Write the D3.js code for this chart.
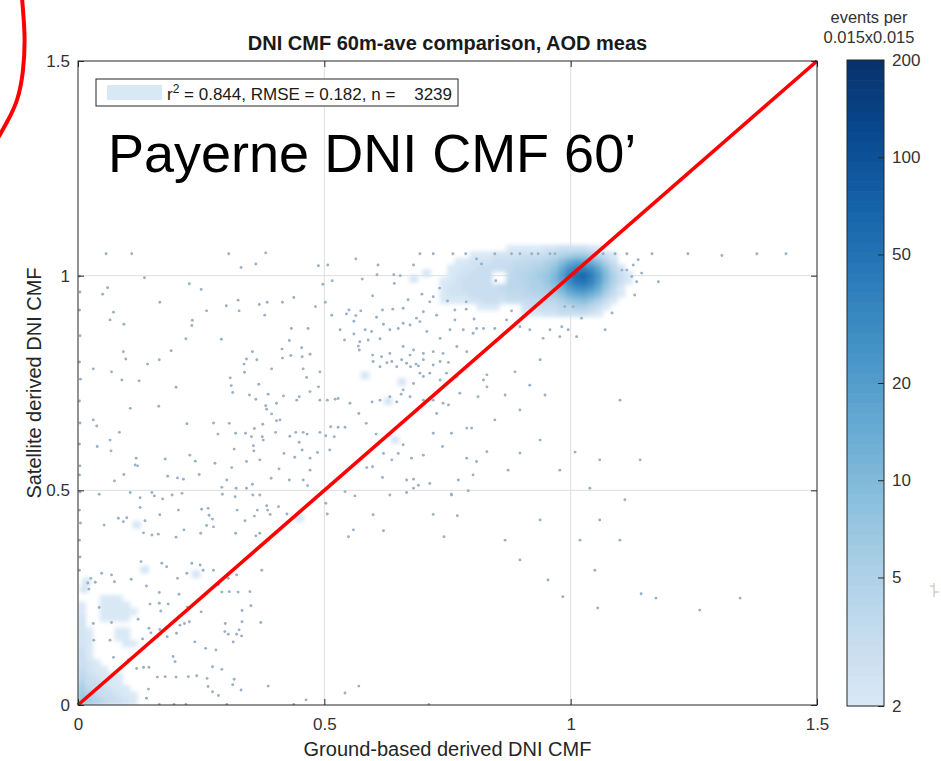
<!DOCTYPE html>
<html>
<head>
<meta charset="utf-8">
<script src="https://cdn.jsdelivr.net/npm/d3@7"></script>
<style>
  html, body { margin: 0; padding: 0; background: #ffffff; }
  svg { display: block; font-family: "Liberation Sans", Arial, Helvetica, sans-serif; }
</style>
</head>
<body>
<svg id="chart" width="941" height="761"></svg>
<script>
// ---------- data ----------
const chartTitle = "DNI CMF 60m-ave comparison, AOD meas";
const xLabel = "Ground-based derived DNI CMF";
const yLabel = "Satellite derived DNI CMF";
const siteLabel = "Payerne DNI CMF 60\u2019";
const colorbarTitle = ["events per", "0.015x0.015"];

const axisTicks = [0, 0.5, 1, 1.5];
const axisTickLabels = ["0", "0.5", "1", "1.5"];
const colorTicks = [2, 5, 10, 20, 50, 100, 200];
const colorDomain = [2, 200];

const statR2 = 0.844;
const statRMSE = 0.182;
const statN = 3239;

// 1:1 reference line
const oneToOne = [[0, 0], [1.5, 1.5]];

// density bins (events per 0.015x0.015), rows listed bottom -> top
const densityBin = 0.015;
const clearSkyX0 = 0.735, clearSkyY0 = 0.905;
const clearSkyCounts = [
  [0,0,0,0,0,0,0,0,0,0,0,2,2,2,2.5,2.5,3,3,3,3,2.5,2,0,0,0,0],
  [0,0,0,0,0,2,2,2,0,0,0,2.5,3,3,3,3,4,4,5,5,4,3,2,0,0,0],
  [2,2,2,2,2.5,2.5,3,3,2.5,3,3,3,3.5,3.5,4,4,5,7,8,9,7,5,3,2,0,0],
  [2,2.5,2.5,2.5,3,3,3,3,3,3.5,3.5,4,4,4.5,5,6,8,12,15,16,13,9,5,3,2,0],
  [2,2.5,2.5,3,3,3,3,3,3.5,4,4,4,5,5,6,8,12,20,28,30,24,14,7,4,2,0],
  [2,2,2.5,3,3,3,3,0,0,4,4,4.5,5,5.5,7,10,16,30,45,50,36,20,9,5,3,2],
  [0,2,2.5,2.5,3,3,3,0,0,3.5,4,4.5,5,6,7,10,18,35,55,60,40,22,10,5,3,2],
  [0,2,2,2.5,2.5,3,3,3,3,3.5,4,4,4.5,5,6,8,14,25,35,36,28,16,8,4,2.5,0],
  [0,0,2,2,2.5,2.5,2.5,3,3,3,3.5,3.5,4,4,5,6,9,14,18,18,14,9,5,3,0,0],
  [0,0,0,0,2,2,2,2.5,2.5,2.5,2.5,3,3,3,3.5,4,5,6,7,7,6,4,3,2,0,0],
  [0,0,0,0,0,0,0,0,0,2,2,2,2,2,2.5,2.5,3,3,3,3,2.5,2,0,0,0,0]
];
const overcastX0 = 0, overcastY0 = 0;
const overcastCounts = [
  [8,6,5,4,3,3,2.5,2],
  [7,5,4,3,3,2.5,2,2],
  [6,4,3,3,2.5,2,2,0],
  [5,3,3,2.5,2,2,0,0],
  [4,3,2.5,2,2,2,0,0],
  [3.5,2.5,2,2,0,0,0,0],
  [3,2.5,2,0,0,0,0,0],
  [3,2,0,0,0,0,0,0],
  [3,2,0,0,0,0,0,0],
  [2.5,2,0,0,0,0,2,2],
  [2.5,2,0,0,0,2,2,0],
  [2.5,2,0,0,0,2,2,0],
  [2.5,0,0,0,0,0,0,0],
  [2.5,0,0,2,2,2,2,0],
  [2,0,0,2,2,2,2,2],
  [2,0,0,2,2,2,2,0],
  [0,0,0,2,2,2,0,0]
];
// isolated two-event bins
const pairBins = [
  [0.674, 0.985], [0.700, 0.998], [0.575, 0.760], [0.650, 0.745], [0.622, 0.700],
  [0.636, 0.610], [0.442, 0.428], [0.112, 0.412], [0.128, 0.308], [0.232, 0.297],
  [0.005, 0.262], [0.010, 0.280]
];

// single events
const scatterPoints = [
  [0.057,1.051],[0.109,1.051],[0.306,1.051],[0.381,1.053],[0.361,1.027],[0.331,1.019],[0.488,1.023],
  [0.507,1.025],[0.564,1.039],[0.609,1.025],[0.607,1.002],[0.641,1.002],[0.654,1.000],[0.681,1.025],
  [0.694,1.051],[0.721,1.051],[0.761,1.051],[0.787,1.051],[0.809,1.039],[0.819,1.027],[0.846,1.051],
  [0.880,1.051],[0.897,1.051],[0.921,1.051],[0.934,1.051],[0.958,1.051],[0.968,1.051],[1.066,1.051],
  [1.090,1.051],[1.114,1.051],[1.127,1.025],[1.137,1.037],[1.104,1.013],[1.114,1.013],[1.144,1.006],
  [1.124,0.998],[1.134,0.986],[1.130,0.955],[1.178,0.986],[1.165,1.051],[1.238,1.051],[1.307,1.047],
  [1.378,1.051],[1.437,1.051],[0.848,0.988],[0.880,0.918],
  [0.135,0.995],[0.226,0.981],[0.250,0.968],[0.060,0.972],[0.050,0.957],[0.166,0.938],[0.261,0.918],
  [0.072,0.915],[0.065,0.897],[0.093,0.887],[0.232,0.896],[0.231,0.884],[0.325,0.943],[0.327,0.918],
  [0.301,0.930],[0.368,0.933],[0.384,0.938],[0.379,0.908],[0.415,0.938],[0.438,0.949],[0.497,0.980],
  [0.502,0.938],[0.482,0.928],[0.516,0.988],[0.577,0.992],[0.642,0.982],[0.670,0.944],[0.698,0.957],
  [0.714,0.939],[0.734,0.971],[0.750,0.941],[0.788,0.939],[0.788,0.922],[0.804,0.899],[0.765,0.920],
  [0.728,0.908],[0.701,0.916],[0.687,0.901],[0.660,0.924],[0.639,0.922],[0.618,0.920],[0.620,0.887],
  [0.606,0.903],[0.598,0.953],[0.574,0.918],[0.550,0.920],[0.545,0.911],[0.564,0.907],[0.560,0.894],
  [0.583,0.874],[0.532,0.874],[0.515,0.908],[0.560,0.864],[0.541,0.850],[0.467,0.877],[0.433,0.877],
  [0.429,0.849],[0.414,0.829],[0.454,0.832],[0.455,0.811],[0.471,0.817],[0.432,0.814],[0.415,0.808],
  [0.354,0.823],[0.342,0.806],[0.363,0.804],[0.337,0.794],[0.338,0.775],[0.309,0.762],[0.311,0.744],
  [0.314,0.728],[0.367,0.747],[0.393,0.783],[0.457,0.783],[0.464,0.763],[0.491,0.776],[0.488,0.741],
  [0.471,0.730],[0.449,0.718],[0.444,0.710],[0.417,0.720],[0.403,0.703],[0.386,0.724],[0.348,0.722],
  [0.361,0.712],[0.381,0.697],[0.383,0.689],[0.393,0.678],[0.403,0.662],[0.410,0.664],[0.375,0.654],
  [0.358,0.644],[0.340,0.633],[0.320,0.633],[0.352,0.625],[0.374,0.625],[0.376,0.617],[0.401,0.635],
  [0.430,0.626],[0.442,0.635],[0.457,0.635],[0.465,0.631],[0.449,0.612],[0.356,0.604],[0.357,0.592],
  [0.317,0.596],[0.284,0.631],[0.275,0.657],[0.307,0.656],[0.342,0.567],[0.369,0.571],[0.418,0.586],
  [0.440,0.577],[0.455,0.594],[0.471,0.575],[0.486,0.588],[0.511,0.594],[0.520,0.625],[0.513,0.648],
  [0.528,0.647],[0.542,0.647],[0.503,0.627],[0.491,0.635],[0.522,0.712],[0.528,0.714],[0.506,0.710],
  [0.491,0.710],[0.552,0.703],[0.570,0.679],[0.585,0.656],[0.605,0.631],[0.597,0.706],[0.613,0.710],
  [0.633,0.718],[0.647,0.706],[0.656,0.724],[0.660,0.734],[0.674,0.718],[0.681,0.749],[0.694,0.773],
  [0.701,0.765],[0.714,0.773],[0.735,0.757],[0.748,0.773],[0.769,0.765],[0.775,0.726],[0.741,0.703],
  [0.752,0.699],[0.721,0.710],[0.701,0.710],[0.694,0.695],[0.728,0.679],[0.789,0.645],[0.799,0.645],
  [0.758,0.633],[0.740,0.602],[0.721,0.633],[0.701,0.582],[0.677,0.575],[0.650,0.586],[0.660,0.606],
  [0.637,0.571],[0.618,0.530],[0.598,0.555],[0.586,0.553],[0.620,0.586],[0.667,0.524],[0.681,0.526],
  [0.691,0.512],[0.714,0.516],[0.758,0.489],[0.772,0.524],[0.789,0.575],[0.802,0.536],[0.809,0.567],
  [0.830,0.590],[0.830,0.741],[0.812,0.718],[0.823,0.757],[0.830,0.769],
  [0.599,0.800],[0.613,0.788],[0.627,0.797],[0.637,0.800],[0.647,0.788],[0.657,0.804],[0.667,0.796],
  [0.675,0.788],[0.686,0.794],[0.691,0.790],[0.701,0.804],[0.721,0.792],[0.735,0.800],[0.752,0.798],
  [0.701,0.819],[0.674,0.815],[0.660,0.835],[0.681,0.827],[0.633,0.819],[0.616,0.811],[0.598,0.815],
  [0.571,0.827],[0.569,0.836],[0.572,0.846],[0.589,0.850],[0.613,0.853],[0.596,0.870],[0.633,0.874],
  [0.650,0.877],[0.660,0.889],[0.674,0.885],[0.694,0.893],[0.708,0.870],[0.735,0.854],[0.721,0.823],
  [0.741,0.819],[0.769,0.835],[0.789,0.823],[0.823,0.877],[0.802,0.866],[0.721,0.951],
  [0.765,0.897],[0.755,0.874],[0.782,0.874],[0.809,0.877],[0.846,0.877],[0.870,0.897],[0.897,0.881],
  [0.917,0.874],[0.944,0.854],[0.958,0.874],[0.978,0.858],[0.988,0.928],[1.005,0.928],[1.022,0.901],
  [0.982,0.881],[0.995,0.874],[1.012,0.858],[1.084,0.913],[1.070,0.874],
  [0.938,0.804],[0.887,0.776],[0.917,0.745],[0.948,0.722],[0.867,0.722],[0.897,0.687],[0.846,0.664],
  [0.938,0.617],[0.897,0.587],[0.873,0.547],[0.978,0.547],[1.009,0.589],[1.039,0.505],[1.059,0.571],
  [1.100,0.710],[1.141,0.571],[1.110,0.478],[1.059,0.431],[1.019,0.384],[1.100,0.384],[0.938,0.431],
  [0.867,0.384],[0.897,0.338],[0.954,0.291],[0.984,0.252],[1.049,0.314],[1.055,0.226],[1.143,0.259],
  [1.173,0.249],[1.344,0.249],[1.262,0.221],
  [0.031,0.783],[0.068,0.776],[0.089,0.757],[0.124,0.755],[0.092,0.823],[0.097,0.806],[0.141,0.794],
  [0.165,0.804],[0.189,0.825],[0.199,0.740],[0.219,0.853],[0.291,0.852],[0.106,0.691],[0.164,0.696],
  [0.031,0.664],[0.038,0.650],[0.084,0.635],[0.065,0.617],[0.067,0.592],[0.039,0.602],[0.221,0.655],
  [0.177,0.573],[0.118,0.575],[0.116,0.559],[0.121,0.557],[0.074,0.522],[0.093,0.537],[0.182,0.533],
  [0.202,0.529],[0.214,0.526],[0.227,0.582],[0.238,0.568],[0.246,0.537],[0.278,0.563],[0.302,0.524],
  [0.312,0.553],[0.342,0.505],[0.354,0.514],[0.321,0.505],[0.292,0.507],[0.392,0.528],[0.408,0.550],
  [0.429,0.524],[0.457,0.524],[0.466,0.511],[0.471,0.547],
  [0.043,0.491],[0.106,0.495],[0.126,0.483],[0.150,0.495],[0.155,0.487],[0.191,0.489],[0.211,0.493],
  [0.172,0.480],[0.126,0.460],[0.166,0.443],[0.204,0.454],[0.251,0.456],[0.264,0.458],[0.266,0.442],
  [0.273,0.433],[0.261,0.418],[0.275,0.415],[0.249,0.400],[0.053,0.419],[0.082,0.435],[0.092,0.427],
  [0.099,0.436],[0.136,0.429],[0.133,0.401],[0.150,0.396],[0.163,0.398],[0.199,0.391],[0.215,0.408],
  [0.293,0.491],[0.319,0.485],[0.323,0.454],[0.355,0.489],[0.369,0.489],[0.364,0.454],[0.358,0.440],
  [0.383,0.464],[0.385,0.454],[0.390,0.444],[0.339,0.429],[0.407,0.462],[0.424,0.445],[0.417,0.418],
  [0.369,0.400],[0.361,0.394],[0.320,0.400],[0.503,0.470],[0.506,0.445],[0.562,0.487],[0.542,0.497],
  [0.599,0.443],[0.633,0.489],[0.667,0.495],[0.681,0.505],[0.721,0.444],[0.758,0.491],[0.770,0.441],
  [0.792,0.499],[0.620,0.406],[0.559,0.408],[0.549,0.392],[0.743,0.392],
  [0.128,0.334],[0.170,0.330],[0.180,0.322],[0.231,0.330],[0.248,0.326],[0.254,0.314],[0.221,0.307],
  [0.202,0.295],[0.275,0.314],[0.285,0.280],[0.305,0.295],[0.322,0.303],[0.373,0.314],[0.048,0.307],
  [0.026,0.295],[0.035,0.286],[0.068,0.303],[0.074,0.287],[0.108,0.293],[0.139,0.277],[0.165,0.262],
  [0.205,0.258],[0.292,0.263],[0.307,0.264],[0.325,0.263],[0.349,0.264],[0.043,0.227],[0.146,0.235],
  [0.165,0.237],[0.168,0.219],[0.183,0.235],[0.222,0.228],[0.250,0.217],[0.333,0.220],[0.351,0.231],
  [0.122,0.200],[0.068,0.192],[0.031,0.190],[0.144,0.179],[0.148,0.168],[0.166,0.176],[0.207,0.186],
  [0.216,0.190],[0.226,0.194],[0.131,0.154],[0.065,0.151],[0.032,0.151],[0.161,0.159],[0.181,0.159],
  [0.200,0.167],[0.237,0.147],[0.259,0.132],[0.280,0.128],[0.298,0.171],[0.305,0.165],[0.315,0.147],
  [0.327,0.175],[0.332,0.161],[0.299,0.190],[0.333,0.194],[0.371,0.192],[0.322,0.165],[0.072,0.111],
  [0.102,0.105],[0.119,0.085],[0.133,0.088],[0.144,0.088],[0.193,0.113],[0.197,0.101],[0.161,0.065],
  [0.177,0.066],[0.199,0.065],[0.224,0.066],[0.241,0.068],[0.262,0.062],[0.273,0.089],[0.292,0.083],
  [0.317,0.060],[0.314,0.047],[0.264,0.043],[0.273,0.031],[0.285,0.022],[0.331,0.035],[0.386,0.044],
  [0.143,0.037],[0.139,0.016],[0.165,0.001],[0.195,0.001],[0.219,0.001],[0.302,0.001],[0.542,0.028],
  [0.570,0.044],[0.463,0.012],[0.438,0.001],[0.712,0.001],
  [0.003,0.999],[0.004,0.962],[0.003,0.920],[0.004,0.860],[0.003,0.799],[0.005,0.759],[0.003,0.708],
  [0.004,0.657],[0.003,0.608],[0.004,0.557],[0.003,0.536],[0.004,0.496],[0.003,0.454],[0.005,0.424],
  [0.003,0.384],[0.004,0.345],[0.003,0.314],[0.020,0.284],[0.022,0.270]
];

// ---------- layout ----------
const svg = d3.select("#chart");
const plotLeft = 78, plotRight = 817, plotTop = 61, plotBottom = 705;
const x = d3.scaleLinear().domain([0, 1.5]).range([plotLeft, plotRight]);
const y = d3.scaleLinear().domain([0, 1.5]).range([plotBottom, plotTop]);
const tone = d3.scaleLog().domain(colorDomain).range([0.15, 1]).clamp(true);
const colorOf = v => d3.interpolateBlues(tone(v));

const axisColor = "#262626";
const tickTextColor = "#333333";
const tickFontSize = 17;

const defs = svg.append("defs");
defs.append("clipPath").attr("id", "plotClip")
  .append("rect").attr("x", plotLeft).attr("y", plotTop)
  .attr("width", plotRight - plotLeft).attr("height", plotBottom - plotTop);
defs.append("filter").attr("id", "soften")
  .attr("x", "-10%").attr("y", "-10%").attr("width", "120%").attr("height", "120%")
  .append("feGaussianBlur").attr("stdDeviation", 2.2);

// grid lines
const grid = svg.append("g");
[0.5, 1].forEach(v => {
  grid.append("line").attr("x1", x(v)).attr("x2", x(v)).attr("y1", plotTop).attr("y2", plotBottom)
    .attr("stroke", "#dedede").attr("stroke-width", 1);
  grid.append("line").attr("x1", plotLeft).attr("x2", plotRight).attr("y1", y(v)).attr("y2", y(v))
    .attr("stroke", "#dedede").attr("stroke-width", 1);
});

// density image
function gridCells(counts, x0, y0, bin) {
  const cells = [];
  counts.forEach((row, r) => row.forEach((c, k) => {
    if (c > 0) cells.push({ x: x0 + k * bin, y: y0 + r * bin, bin: bin, count: c });
  }));
  return cells;
}
const cells = []
  .concat(gridCells(clearSkyCounts, clearSkyX0, clearSkyY0, densityBin))
  .concat(gridCells(overcastCounts, overcastX0, overcastY0, densityBin))
  .concat(pairBins.map(p => ({ x: p[0], y: p[1], bin: densityBin, count: 2.5 })));

const densityLayer = svg.append("g").attr("clip-path", "url(#plotClip)")
  .append("g").attr("filter", "url(#soften)");
densityLayer.selectAll("rect").data(cells).join("rect")
  .attr("x", d => x(d.x) - 0.5)
  .attr("y", d => y(d.y + d.bin) - 0.5)
  .attr("width", d => x(d.x + d.bin) - x(d.x) + 1)
  .attr("height", d => y(d.y) - y(d.y + d.bin) + 1)
  .attr("fill", d => colorOf(d.count));

// single events
svg.append("g").attr("clip-path", "url(#plotClip)")
  .selectAll("circle").data(scatterPoints).join("circle")
  .attr("cx", d => x(d[0])).attr("cy", d => y(d[1])).attr("r", 1.45)
  .attr("fill", "#9ab0c4");

// 1:1 line
svg.append("path").datum(oneToOne)
  .attr("d", d3.line().x(d => x(d[0])).y(d => y(d[1])))
  .attr("stroke", "#ff0000").attr("stroke-width", 3.6).attr("fill", "none");

// axes box
svg.append("rect").attr("x", plotLeft).attr("y", plotTop)
  .attr("width", plotRight - plotLeft).attr("height", plotBottom - plotTop)
  .attr("fill", "none").attr("stroke", axisColor).attr("stroke-width", 1);

function styleAxis(g) {
  g.select(".domain").remove();
  g.selectAll(".tick line").attr("stroke", axisColor);
  g.selectAll(".tick text").attr("fill", tickTextColor).attr("font-size", tickFontSize)
    .attr("font-family", "Liberation Sans, Arial, sans-serif");
}
const fmt = (d, i) => axisTickLabels[i];
svg.append("g").attr("transform", `translate(0,${plotBottom})`)
  .call(d3.axisBottom(x).tickValues(axisTicks).tickFormat(fmt).tickSizeInner(-6).tickSizeOuter(0).tickPadding(13))
  .call(styleAxis);
svg.append("g").attr("transform", `translate(0,${plotTop})`)
  .call(d3.axisTop(x).tickValues(axisTicks).tickFormat("").tickSizeInner(-6).tickSizeOuter(0))
  .call(styleAxis);
svg.append("g").attr("transform", `translate(${plotLeft},0)`)
  .call(d3.axisLeft(y).tickValues(axisTicks).tickFormat(fmt).tickSizeInner(-6).tickSizeOuter(0).tickPadding(8))
  .call(styleAxis);
svg.append("g").attr("transform", `translate(${plotRight},0)`)
  .call(d3.axisRight(y).tickValues(axisTicks).tickFormat("").tickSizeInner(-6).tickSizeOuter(0))
  .call(styleAxis);

// title and axis labels
svg.append("text").attr("x", (plotLeft + plotRight) / 2).attr("y", 50)
  .attr("text-anchor", "middle").attr("font-weight", "bold").attr("font-size", 20)
  .attr("fill", "#1a1a1a").text(chartTitle);
svg.append("text").attr("x", (plotLeft + plotRight) / 2).attr("y", 756)
  .attr("text-anchor", "middle").attr("font-size", 20).attr("fill", "#262626").text(xLabel);
svg.append("text").attr("transform", `translate(41,${(plotTop + plotBottom) / 2}) rotate(-90)`)
  .attr("text-anchor", "middle").attr("font-size", 20).attr("fill", "#262626").text(yLabel);

// legend
const legend = svg.append("g");
legend.append("rect").attr("x", 96).attr("y", 79).attr("width", 362).attr("height", 27)
  .attr("fill", "#ffffff").attr("stroke", axisColor).attr("stroke-width", 1);
legend.append("rect").attr("x", 107).attr("y", 85).attr("width", 55).attr("height", 15)
  .attr("fill", colorOf(colorDomain[0]));
const legendText = legend.append("text").attr("x", 167).attr("y", 100)
  .attr("font-size", 17).attr("fill", "#1a1a1a").style("white-space", "pre");
legendText.append("tspan").text("r");
legendText.append("tspan").attr("dy", -7).attr("font-size", 12).text("2");
legendText.append("tspan").attr("dy", 7)
  .text(` = ${statR2.toFixed(3)}, RMSE = ${statRMSE.toFixed(3)}, n =    ${statN}`);

// site annotation
svg.append("text").attr("x", 108).attr("y", 172).attr("font-size", 54)
  .attr("fill", "#000000").text(siteLabel);

// red circle outline partly visible at the top-left corner
const arcPts = [[22, -2], [24.5, 35], [23, 70], [17, 100], [7, 122], [-2, 138]];
svg.append("path").datum(arcPts)
  .attr("d", d3.line().curve(d3.curveNatural))
  .attr("stroke", "#ff0000").attr("stroke-width", 4).attr("fill", "none");

// colorbar
const cbLeft = 847, cbRight = 884, cbTop = 60, cbBottom = 706;
const cy = d3.scaleLog().domain(colorDomain).range([cbBottom, cbTop]);
const bands = d3.range(64);
const bandEdge = i => Math.exp(Math.log(colorDomain[0]) + (Math.log(colorDomain[1]) - Math.log(colorDomain[0])) * i / 64);
svg.append("g").selectAll("rect").data(bands).join("rect")
  .attr("x", cbLeft).attr("width", cbRight - cbLeft)
  .attr("y", i => cy(bandEdge(i + 1)))
  .attr("height", i => cy(bandEdge(i)) - cy(bandEdge(i + 1)) + 0.6)
  .attr("fill", i => colorOf(Math.sqrt(bandEdge(i) * bandEdge(i + 1))));
svg.append("rect").attr("x", cbLeft).attr("y", cbTop).attr("width", cbRight - cbLeft)
  .attr("height", cbBottom - cbTop).attr("fill", "none").attr("stroke", axisColor).attr("stroke-width", 1);
svg.append("g").attr("transform", `translate(${cbRight},0)`)
  .call(d3.axisRight(cy).tickValues(colorTicks).tickFormat(d3.format("d")).tickSizeInner(-6).tickSizeOuter(0).tickPadding(8))
  .call(styleAxis);
svg.append("text").attr("x", 869).attr("y", 23).attr("text-anchor", "middle")
  .attr("font-size", 16.5).attr("fill", "#333333").text(colorbarTitle[0]);
svg.append("text").attr("x", 869).attr("y", 43).attr("text-anchor", "middle")
  .attr("font-size", 16.5).attr("fill", "#333333").text(colorbarTitle[1]);

// small stray mark at the right edge
svg.append("path")
  .attr("d", "M934,583 V597 M930,586 H934 M934,592 H939")
  .attr("stroke", "#c8b6a4").attr("stroke-width", 1).attr("fill", "none");
</script>
</body>
</html>
